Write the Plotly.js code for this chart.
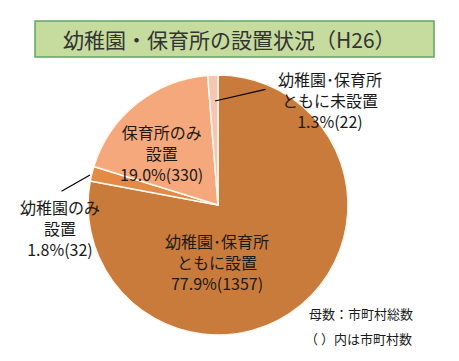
<!DOCTYPE html>
<html><head><meta charset="utf-8">
<script src="https://cdn.plot.ly/plotly-3.0.1.min.js"></script>
<style>html,body{margin:0;padding:0;background:#fff;}#chart{width:459px;height:361px;}</style>
</head><body><div id="chart"></div>
<script>
const categories = ["幼稚園・保育所ともに設置", "幼稚園のみ設置", "保育所のみ設置", "幼稚園・保育所ともに未設置"];
const counts = [1357, 32, 330, 22];
const percents = ["77.9%", "1.8%", "19.0%", "1.3%"];
const labelTexts = ["幼稚園･保育所<br>ともに設置", "幼稚園のみ<br>設置", "保育所のみ<br>設置", "幼稚園･保育所<br>ともに未設置"];
const colors = ["#C97B3C", "#E18B47", "#F5A87B", "#F4C7B5"];

const W = 459, H = 361;
const px = x => x / W, py = y => 1 - y / H;
const font = "'Noto Sans CJK JP', 'Noto Sans', sans-serif";

const trace = {
  type: 'pie',
  labels: categories,
  values: counts,
  sort: false,
  direction: 'clockwise',
  rotation: 0,
  textinfo: 'none',
  hoverinfo: 'label+value',
  marker: {colors: colors, line: {color: '#FFF8EE', width: 1.5}},
  domain: {x: [px(88), px(348)], y: [py(335), py(75)]},
  showlegend: false
};

const lab = (i) => labelTexts[i] + '<br>' + percents[i] + '(' + counts[i] + ')';
const ann = (x, y, text, size) => ({
  x: px(x), y: py(y), xref: 'paper', yref: 'paper', text: text, showarrow: false,
  font: {family: font, size: size || 14, color: '#1a1a1a'}, align: 'center', xanchor: 'center', yanchor: 'middle'
});
const line = (x, y, ax, ay) => ({
  x: px(x), y: py(y), xref: 'paper', yref: 'paper', text: '', showarrow: true,
  arrowhead: 0, arrowwidth: 1.2, arrowcolor: '#000', ax: ax, ay: ay, standoff: 0, startstandoff: 0
});

const layout = {
  width: W, height: H,
  margin: {l: 0, r: 0, t: 0, b: 0},
  paper_bgcolor: '#fff',
  font: {family: font},
  shapes: [{
    type: 'rect', xref: 'paper', yref: 'paper',
    x0: px(35), x1: px(434), y0: py(57), y1: py(21),
    fillcolor: '#C6DB9E', line: {color: '#5FA660', width: 1.5}, layer: 'below'
  }],
  annotations: [
    Object.assign(ann(229, 39, '幼稚園・保育所の設置状況（H26）', 21), {font: {family: font, size: 21, color: '#333'}}),
    ann(217, 262, lab(0), 16),
    ann(60, 228, lab(1), 16),
    ann(161, 153, lab(2), 16),
    ann(330, 100, lab(3), 16),
    Object.assign(ann(307, 313, '母数：市町村総数', 13), {xanchor: 'left'}),
    Object.assign(ann(303, 338, '（ ）内は市町村数', 13), {xanchor: 'left'}),
    line(90, 175, -30, 17),
    line(215, 101, 52, -12)
  ]
};

Plotly.newPlot('chart', [trace], layout, {staticPlot: true});
</script></body></html>
